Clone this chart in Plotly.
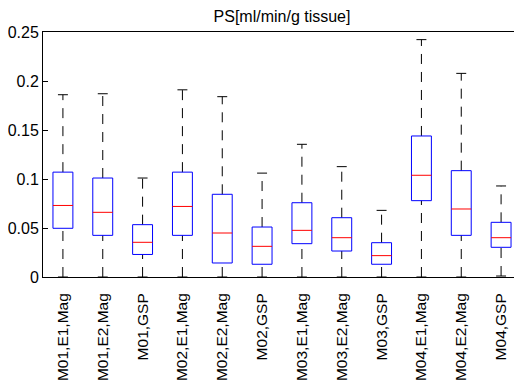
import plotly.graph_objects as go

categories = ["M01,E1,Mag", "M01,E2,Mag", "M01,GSP",
              "M02,E1,Mag", "M02,E2,Mag", "M02,GSP",
              "M03,E1,Mag", "M03,E2,Mag", "M03,GSP",
              "M04,E1,Mag", "M04,E2,Mag", "M04,GSP"]
lower_whisker = [0.0, 0.0, 0.0, 0.0, 0.0, 0.0, 0.0, 0.0, 0.0, 0.0, 0.0, 0.001]
q1 = [0.0497, 0.0425, 0.0230, 0.0425, 0.0143, 0.0130, 0.0340, 0.0265, 0.0130, 0.0779, 0.0425, 0.0303]
median = [0.0730, 0.0660, 0.0354, 0.0720, 0.0449, 0.0313, 0.0476, 0.0401, 0.0218, 0.1038, 0.0694, 0.0401]
q3 = [0.1070, 0.1010, 0.0534, 0.1070, 0.0844, 0.0510, 0.0758, 0.0605, 0.0350, 0.1439, 0.1085, 0.0558]
upper_whisker = [0.1860, 0.1870, 0.1010, 0.1910, 0.1840, 0.1060, 0.1354, 0.1126, 0.0680, 0.2422, 0.2078, 0.0929]
yticks = [0, 0.05, 0.1, 0.15, 0.2, 0.25]
ytick_labels = ["0", "0.05", "0.1", "0.15", "0.2", "0.25"]

BOX_HW = 0.25
CAP_HW = 0.125
FONT = "Liberation Sans, Arial, Helvetica, sans-serif"
PAGE_OFFSET = 8  # default body margin of the html page

positions = list(range(1, len(categories) + 1))

wx, wy = [], []
cx, cy = [], []
bx, by = [], []
mx, my = [], []
for p, lo, a, m, b, hi in zip(positions, lower_whisker, q1, median, q3, upper_whisker):
    wx += [p, p, None, p, p, None]
    wy += [b, hi, None, lo, a, None]
    cx += [p - CAP_HW, p + CAP_HW, None, p - CAP_HW, p + CAP_HW, None]
    cy += [hi, hi, None, lo, lo, None]
    bx += [p - BOX_HW, p + BOX_HW, p + BOX_HW, p - BOX_HW, p - BOX_HW, None]
    by += [a, a, b, b, a, None]
    mx += [p - BOX_HW, p + BOX_HW, None]
    my += [m, m, None]

fig = go.Figure()
fig.add_trace(go.Scatter(x=wx, y=wy, mode="lines",
                         line=dict(color="black", width=1, dash="10px,8px"),
                         hoverinfo="skip", showlegend=False))
fig.add_trace(go.Scatter(x=cx, y=cy, mode="lines",
                         line=dict(color="black", width=1),
                         hoverinfo="skip", showlegend=False))
fig.add_trace(go.Scatter(x=bx, y=by, mode="lines",
                         line=dict(color="#0000ff", width=1),
                         hoverinfo="skip", showlegend=False))
fig.add_trace(go.Scatter(x=mx, y=my, mode="lines",
                         line=dict(color="#ff0000", width=1),
                         hoverinfo="skip", showlegend=False))

fig.update_layout(
    width=522 - PAGE_OFFSET, height=383 - PAGE_OFFSET,
    margin=dict(l=43 - PAGE_OFFSET, r=1, t=32 - PAGE_OFFSET, b=106, autoexpand=False),
    paper_bgcolor="white", plot_bgcolor="white",
    font=dict(family=FONT, size=15, color="black"),
    title=dict(text="PS[ml/min/g tissue]", x=0.5, xanchor="center",
               xref="paper", y=1, yref="paper", yanchor="bottom",
               pad=dict(b=10), font=dict(size=16)),
    showlegend=False,
)
fig.update_xaxes(range=[0.5, 12.5], tickvals=positions, ticktext=categories,
                 tickangle=-90, ticks="", showgrid=False, zeroline=False,
                 showline=True, linecolor="black", linewidth=1, mirror=True,
                 tickfont=dict(size=15.5), ticklabelstandoff=9, automargin=False)
fig.update_yaxes(range=[0, 0.25], tickvals=yticks, ticktext=ytick_labels,
                 ticks="inside", ticklen=5, tickcolor="black",
                 showgrid=False, zeroline=False,
                 showline=True, linecolor="black", linewidth=1, mirror="ticks",
                 tickfont=dict(size=16), automargin=False)

fig.write_html("out.html")
